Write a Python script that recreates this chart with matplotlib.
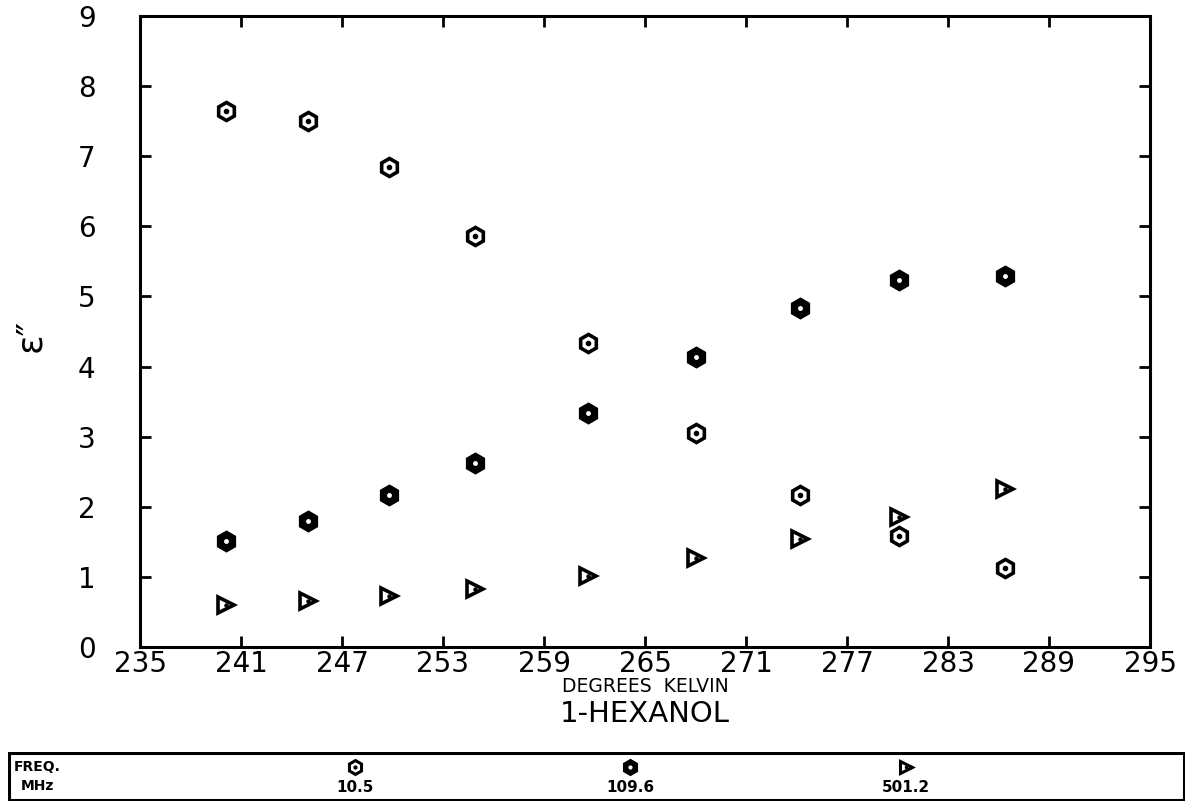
import matplotlib
matplotlib.use("Agg")
import matplotlib.pyplot as plt
from matplotlib.patches import Rectangle

# Data
temps = [240.1, 245.0, 249.8, 254.9, 261.6, 268.0, 274.2, 280.1, 286.4]
eps_10_5 = [7.65, 7.50, 6.85, 5.86, 4.34, 3.05, 2.17, 1.58, 1.13]
eps_109_6 = [1.51, 1.80, 2.17, 2.62, 3.34, 4.14, 4.84, 5.24, 5.29]
eps_501_2 = [0.60, 0.66, 0.73, 0.83, 1.01, 1.27, 1.54, 1.85, 2.25]
x_ticks = [235, 241, 247, 253, 259, 265, 271, 277, 283, 289, 295]
y_ticks = list(range(0, 10))
freq_labels = ["10.5", "109.6", "501.2"]

W, H = 1193, 807
fig = plt.figure(figsize=(W / 100, H / 100), dpi=100)
ax = fig.add_axes([140 / W, 1 - 647 / H, 1010 / W, 631 / H])

ms = 13
mew = 2.6
# 10.5 MHz: open hexagon with dot
ax.plot(temps, eps_10_5, ls="none", marker="h", ms=ms, mfc="white", mec="black", mew=mew)
ax.plot(temps, eps_10_5, ls="none", marker="o", ms=3, mfc="black", mec="black")
# 109.6 MHz: filled hexagon with white dot
ax.plot(temps, eps_109_6, ls="none", marker="h", ms=ms, mfc="black", mec="black", mew=mew)
ax.plot(temps, eps_109_6, ls="none", marker="o", ms=2.5, mfc="white", mec="white")
# 501.2 MHz: open right triangle with dot
ax.plot(temps, eps_501_2, ls="none", marker=">", ms=11, mfc="white", mec="black", mew=mew)
ax.plot(temps, eps_501_2, ls="none", marker="o", ms=2.2, mfc="black", mec="black")

ax.set_xlim(235, 295)
ax.set_ylim(0, 9)
ax.set_xticks(x_ticks)
ax.set_yticks(y_ticks)
ax.tick_params(axis="both", direction="in", length=8, width=2, top=True, right=True,
               labelsize=20)
ax.tick_params(axis="x", pad=2)
ax.tick_params(axis="y", pad=32)
for s in ax.spines.values():
    s.set_linewidth(2.2)

fig.text(645 / W, 1 - 692 / H, "DEGREES  KELVIN", fontsize=13.5, ha="center", va="baseline")
fig.text(645 / W, 1 - 722 / H, "1-HEXANOL", fontsize=21, ha="center", va="baseline")
fig.text(30 / W, 1 - 335 / H, "ε\u2033", fontsize=26, ha="center", va="center", rotation=90)

# Legend box
lax = fig.add_axes([8 / W, 1 - 801 / H, 1177 / W, 49 / H])
lax.set_xlim(0, 1177)
lax.set_ylim(0, 49)
lax.axis("off")
lax.add_patch(Rectangle((1, 1), 1175, 47, fill=False, lw=2.2, ec="black"))
lax.text(29, 34, "FREQ.", fontsize=10, fontweight="bold", ha="center", va="center")
lax.text(29, 15, "MHz", fontsize=10, fontweight="bold", ha="center", va="center")
lx = [347, 622, 898]
ly = 34
lax.plot([lx[0]], [ly], marker="h", ms=10, mfc="white", mec="black", mew=2.2)
lax.plot([lx[0]], [ly], marker="o", ms=2, mfc="black", mec="black")
lax.plot([lx[1]], [ly], marker="h", ms=10, mfc="black", mec="black", mew=2.2)
lax.plot([lx[1]], [ly], marker="o", ms=2, mfc="white", mec="white")
lax.plot([lx[2]], [ly], marker=">", ms=9, mfc="white", mec="black", mew=2.2)
lax.plot([lx[2]], [ly], marker="o", ms=1.6, mfc="black", mec="black")
for x, t in zip(lx, freq_labels):
    lax.text(x, 14, t, fontsize=11, fontweight="bold", ha="center", va="center")

fig.savefig("out.png", dpi=100)
